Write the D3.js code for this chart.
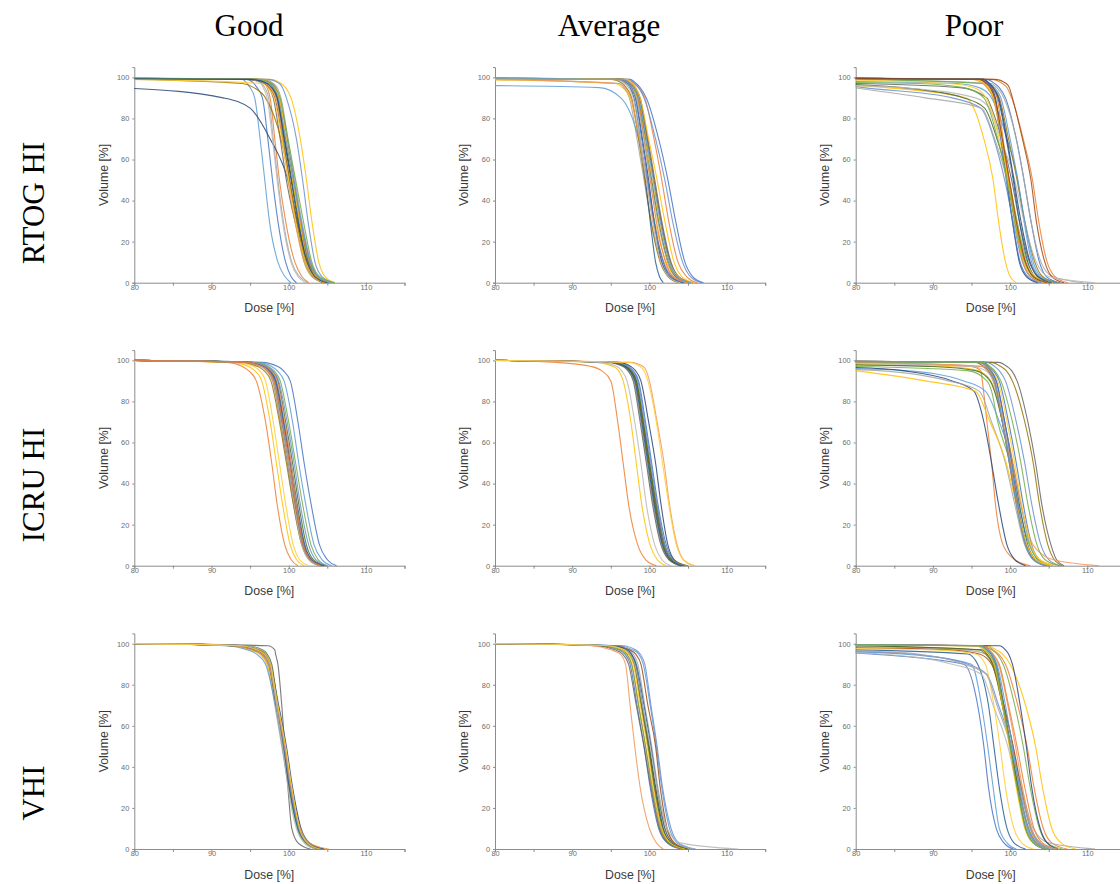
<!DOCTYPE html>
<html><head><meta charset="utf-8">
<script src="https://cdn.jsdelivr.net/npm/d3@7"></script>
<style>html,body{margin:0;padding:0;background:#fff;}svg{display:block;}</style>
</head><body>
<svg id="chart" width="1120" height="884"></svg>
<script>
// ---------- categories / labels ----------
const columnTitles = ["Good", "Average", "Poor"];
const rowTitles = ["RTOG HI", "ICRU HI", "VHI"];
const xTicks = [80, 85, 90, 95, 100, 105, 110, 115];
const xTickLabels = [80, 90, 100, 110];
const yTickLabels = [0, 20, 40, 60, 80, 100];
// Each curve: [volume at 80% dose, then the dose (%) where the DVH reaches each volume level]
const volumeLevels = [99, 97, 95, 90, 70, 50, 30, 10, 3, 0, 85];

// ---------- RTOG HI ----------
const rtogGood = [
 [99.4,94.5,95.5,95.9,96.6,97.3,97.9,98.6,99.6,100.3,101.0],
 [99.3,95.5,96.9,97.2,97.6,98.2,98.8,99.6,100.8,101.7,102.6],
 [99.1,95.0,96.5,96.9,97.4,98.0,98.6,99.3,100.4,101.4,102.5],
 [99.5,97.5,99.0,99.6,100.3,101.5,102.3,103.0,103.9,104.7,106.0],
 [99.4,94.0,94.6,95.0,95.6,96.3,96.9,97.5,98.6,99.5,100.3],
 [99.4,95.0,97.2,97.7,98.4,99.3,100.1,100.9,102.0,103.0,104.6],
 [94.6,null,null,null,91.5,97.6,99.9,101.1,102.4,103.3,104.5,95.0],
 [99.3,94.5,97.0,97.5,98.2,99.2,100.1,101.0,102.2,103.2,104.8],
 [99.2,95.0,96.8,97.4,98.0,98.9,99.7,100.8,102.2,103.2,104.8],
 [99.0,92.0,94.0,95.5,97.0,99.0,100.1,101.0,102.3,103.3,104.6],
 [99.6,95.5,97.6,98.0,98.6,99.5,100.4,101.3,102.5,103.5,105.2],
 [99.5,95.8,97.5,98.0,98.5,99.5,100.4,101.4,102.6,103.7,105.3],
 [99.6,97.2,98.8,99.2,99.7,101.0,101.8,102.5,103.4,104.3,105.8],
 [99.2,95.0,97.0,97.6,98.4,99.2,99.9,100.8,102.0,103.1,104.7],
 [99.2,95.0,96.4,96.7,97.2,97.9,98.5,99.2,100.3,101.2,102.2],
 [99.0,null,96.5,97.3,98.1,99.1,100.0,100.9,102.2,103.3,104.9],
 [99.5,95.8,97.7,98.2,98.8,99.8,100.7,101.6,102.8,103.8,105.6],
 [99.7,96.5,97.9,98.3,98.7,99.6,100.6,101.5,102.7,103.7,105.4],
 [99.5,96.8,98.0,98.5,99.0,99.9,100.8,101.7,102.9,103.8,105.6],
 [99.6,96.0,97.5,98.1,98.8,99.7,100.5,101.4,102.4,103.5,105.1],
 [99.4,95.5,97.4,98.0,98.6,99.6,100.6,101.6,102.8,103.8,105.3],
 [99.5,96.0,97.8,98.3,98.9,99.9,100.9,101.9,103.0,104.0,106.0],
 [99.3,95.0,97.2,97.8,98.5,99.4,100.3,101.2,102.4,103.4,105.0]
];
const rtogAverage = [
 [99.7,97.5,98.3,98.8,99.6,101.2,102.4,103.4,104.6,105.6,107.0],
 [99.5,97.0,98.0,98.6,99.4,100.6,101.6,102.5,103.7,104.8,106.2],
 [99.0,94.5,96.0,96.7,97.4,98.4,99.3,100.2,101.6,102.8,104.6],
 [98.8,null,95.5,96.5,97.5,98.7,99.7,100.7,102.2,103.4,105.5],
 [96.0,null,null,93.5,96.3,98.6,99.7,100.6,101.8,102.9,104.6],
 [99.4,95.8,97.2,97.8,98.4,99.4,100.3,101.2,102.5,103.6,105.4],
 [99.6,96.5,97.3,97.7,98.2,99.1,99.9,100.6,101.6,102.6,104.3],
 [99.5,96.0,97.4,98.0,98.7,99.7,100.6,101.5,102.7,103.7,105.6],
 [99.6,96.5,97.6,98.2,98.8,99.8,100.7,101.6,102.8,103.8,105.6],
 [99.3,95.0,96.5,97.0,97.7,98.6,99.4,100.2,101.4,102.4,103.8],
 [99.5,96.0,97.0,97.5,98.0,98.8,99.5,100.1,100.8,101.3,101.8],
 [99.5,96.2,97.4,97.9,98.5,99.5,100.3,101.2,102.4,103.4,105.2],
 [99.6,97.3,98.1,98.6,99.3,100.8,102.0,103.0,104.3,105.3,106.8],
 [99.0,94.0,96.0,96.8,97.6,98.7,99.6,100.5,101.9,103.0,104.8],
 [99.4,95.5,96.8,97.3,97.9,98.8,99.6,100.4,101.5,102.5,104.0],
 [99.4,96.0,97.3,97.8,98.4,99.4,100.4,101.3,102.6,103.7,105.5],
 [99.5,96.0,97.2,97.7,98.2,99.0,99.8,100.6,101.8,102.8,104.5],
 [99.6,96.5,97.5,98.0,98.5,99.3,100.1,100.9,102.1,103.1,105.0],
 [99.3,95.5,97.0,97.6,98.3,99.3,100.2,101.1,102.4,103.5,105.3],
 [99.7,97.0,97.8,98.2,98.8,99.9,101.0,102.0,103.2,104.2,105.8],
 [99.6,96.4,97.5,98.0,98.6,99.6,100.5,101.4,102.6,103.6,105.4]
];
const rtogPoor = [
 [99.6,97.0,98.0,98.6,99.4,100.8,101.8,102.7,103.8,104.7,106.5],
 [99.4,97.5,99.0,99.6,100.2,101.7,102.9,103.7,104.8,105.8,107.5],
 [99.0,96.0,97.5,98.3,99.2,100.8,101.8,102.7,104.0,105.5,109.5],
 [96.0,null,null,84.0,94.3,96.6,97.8,98.5,99.4,100.0,100.8,95.3],
 [98.0,null,93.0,96.0,97.6,99.6,101.0,101.8,102.8,103.8,105.6],
 [99.0,95.0,96.4,97.0,97.8,98.9,99.9,100.9,102.2,103.3,106.0],
 [99.6,96.6,97.2,97.6,98.1,98.9,99.6,100.3,101.2,102.1,103.6],
 [99.6,98.0,99.5,99.9,100.3,101.6,102.7,103.4,104.5,105.4,107.0],
 [97.0,null,86.0,93.5,97.0,98.9,100.2,101.2,102.5,103.6,105.8,97.6],
 [99.5,96.2,97.2,97.8,98.6,99.8,100.9,101.9,103.2,104.2,106.2],
 [99.5,96.2,97.0,97.6,98.4,99.5,100.4,101.2,102.3,103.2,105.0],
 [96.5,null,null,86.0,94.0,98.3,99.8,100.8,102.0,103.1,105.2,96.7],
 [95.5,null,null,81.0,92.5,97.9,99.3,100.4,101.6,102.6,104.6,96.2],
 [99.2,95.0,96.5,97.1,97.8,98.9,99.9,100.8,102.0,103.2,105.5],
 [96.0,null,null,86.0,95.5,98.8,100.6,101.8,103.4,105.0,111.0,97.3],
 [98.6,null,92.0,95.3,96.9,98.6,99.8,100.8,102.1,103.3,105.6],
 [99.6,96.0,97.0,97.5,98.0,98.8,99.5,100.3,101.3,102.3,104.0],
 [99.5,96.3,97.2,97.7,98.3,99.1,99.8,100.6,101.7,102.7,104.5],
 [94.8,null,null,null,89.0,98.0,99.6,100.7,102.0,103.0,105.0,96.3],
 [99.3,95.5,96.7,97.2,97.9,98.9,99.7,100.6,101.8,102.9,104.8],
 [99.5,96.5,97.4,98.0,98.8,100.0,101.0,101.9,103.0,104.0,106.0],
 [97.5,null,88.0,94.0,96.6,98.4,99.6,100.6,101.9,103.0,105.0],
 [99.5,96.5,97.3,97.8,98.5,99.6,100.5,101.4,102.6,103.6,105.4],
 [99.4,96.0,96.9,97.4,98.0,99.0,99.9,100.8,102.0,103.0,104.8]
];

// ---------- ICRU HI ----------
const icruGood = [
 [100,96.5,98.6,99.3,100.2,101.2,102.0,102.9,104.0,105.0,106.2],
 [100,92.0,94.0,94.8,95.8,97.0,97.8,98.5,99.5,100.3,101.2],
 [100,94.0,96.4,97.1,97.9,98.9,99.8,100.6,101.7,102.6,104.0],
 [100,92.5,94.8,95.6,96.5,97.6,98.4,99.2,100.2,101.0,102.0],
 [100,96.0,97.8,98.5,99.4,100.5,101.3,102.2,103.3,104.3,105.6],
 [100,95.5,97.4,98.1,98.9,100.0,100.9,101.8,102.9,103.8,105.0],
 [100,94.8,96.9,97.6,98.3,99.3,100.2,101.0,102.0,102.9,104.5],
 [100,94.6,96.7,97.3,98.0,99.0,99.9,100.8,101.9,102.8,104.4],
 [100,94.8,96.8,97.4,98.1,99.1,99.9,100.7,101.8,102.7,104.2],
 [100,93.5,96.0,96.8,97.7,98.8,99.7,100.6,101.7,102.7,104.2],
 [100,94.5,96.9,97.6,98.4,99.4,100.3,101.1,102.1,103.0,104.6],
 [100,95.0,97.1,97.8,98.6,99.6,100.5,101.3,102.3,103.2,104.8],
 [100,95.2,97.2,97.9,98.7,99.8,100.7,101.5,102.6,103.5,105.0],
 [100,95.0,97.0,97.7,98.5,99.5,100.3,101.0,101.9,102.7,104.0],
 [100,94.0,96.6,97.3,98.0,99.0,99.9,100.7,101.7,102.6,104.0],
 [100,93.0,95.5,96.2,97.0,98.0,98.8,99.6,100.6,101.4,102.6],
 [100,94.5,96.8,97.5,98.2,99.2,100.1,100.9,101.9,102.8,104.3],
 [100,94.2,96.5,97.2,98.1,99.2,100.1,100.9,101.9,102.8,104.2]
];
const icruAverage = [
 [100,95.8,97.3,97.9,98.6,99.5,100.3,101.1,102.2,103.1,104.8],
 [100,88.0,92.5,93.8,95.0,95.9,96.6,97.3,98.5,99.5,100.9],
 [100,94.8,96.7,97.3,98.0,98.9,99.7,100.5,101.6,102.6,104.3],
 [100,93.0,95.3,96.0,96.6,97.6,98.3,99.0,100.1,101.0,102.2],
 [100,95.6,97.1,97.7,98.4,99.3,100.1,100.9,102.0,102.9,104.6],
 [100,95.0,96.9,97.5,98.2,99.1,99.9,100.7,101.7,102.6,104.2],
 [100,96.0,97.6,98.2,98.9,99.9,100.8,101.5,102.4,103.2,104.6],
 [100,95.2,96.9,97.5,98.2,99.1,99.9,100.7,101.8,102.7,104.2],
 [100,94.6,96.6,97.2,97.9,98.8,99.6,100.4,101.5,102.5,104.1],
 [100,95.4,97.0,97.6,98.3,99.2,100.0,100.9,102.0,103.0,105.0],
 [100,95.0,96.8,97.4,98.1,99.0,99.8,100.6,101.7,102.7,104.3],
 [100,95.3,97.0,97.6,98.3,99.2,100.0,100.8,101.9,102.9,104.5],
 [100,95.5,97.2,97.8,98.5,99.4,100.2,101.0,102.0,103.0,104.7],
 [100,97.5,99.2,99.6,100.0,101.0,101.9,102.6,103.6,104.4,105.8],
 [100,93.5,95.8,96.4,97.1,98.1,98.9,99.6,100.7,101.6,102.8],
 [100,97.3,98.8,99.3,99.8,100.9,101.7,102.5,103.5,104.4,106.0]
];
const icruPoor = [
 [99.5,96.0,97.2,97.8,98.6,99.8,100.8,101.7,102.8,103.8,105.6],
 [99.0,null,95.0,96.2,96.4,97.0,97.6,98.1,99.1,100.6,102.6],
 [99.0,95.0,96.3,97.0,97.8,99.0,100.0,100.9,102.0,103.1,105.0],
 [98.0,null,92.0,95.8,97.5,99.2,100.4,101.4,102.7,103.8,106.0],
 [96.0,null,null,86.5,94.0,98.6,100.3,101.4,102.6,103.6,105.4,96.8],
 [97.0,null,85.0,94.5,97.0,98.4,100.0,101.1,102.5,103.6,105.6,97.6],
 [96.5,null,null,86.0,92.5,96.6,97.6,98.5,99.6,100.6,102.0,95.3],
 [99.2,95.5,96.6,97.2,97.9,99.0,99.9,100.8,102.0,103.1,104.8],
 [99.5,98.5,99.6,100.2,100.9,102.3,103.3,104.1,105.3,106.0,107.0],
 [99.4,97.5,98.8,99.5,100.3,101.9,103.0,103.8,104.9,105.7,106.8],
 [99.6,96.6,97.2,97.6,98.2,99.3,100.3,101.2,102.3,103.3,105.0],
 [97.8,null,90.0,95.5,97.4,99.0,100.0,100.9,102.1,103.2,105.2],
 [99.5,97.0,98.0,98.6,99.4,100.8,101.9,102.8,104.0,105.0,106.6],
 [99.0,96.0,96.8,97.3,98.0,99.2,100.3,101.4,103.0,105.5,111.5],
 [98.5,null,95.0,96.8,97.8,99.1,100.1,101.0,102.2,103.3,105.4],
 [99.5,96.3,97.1,97.6,98.4,99.6,100.6,101.5,102.7,103.8,105.8],
 [99.6,96.2,97.0,97.5,98.2,99.3,100.2,101.0,102.1,103.0,104.6],
 [99.6,96.4,97.0,97.4,98.0,99.0,100.0,100.9,102.0,103.0,104.8],
 [95.5,null,null,83.0,92.0,97.6,99.4,100.6,101.9,103.0,105.0,96.0],
 [95.0,null,null,null,89.0,97.4,99.5,100.8,102.2,103.3,105.4,95.5],
 [99.4,96.0,96.9,97.4,98.0,99.0,99.9,100.8,102.0,103.0,104.8],
 [99.4,96.5,97.4,98.0,98.8,100.3,101.4,102.3,103.5,104.5,106.4]
];

// ---------- VHI ----------
const vhiGood = [
 [100,93.0,95.5,96.6,97.4,98.3,99.2,100.0,101.2,102.3,104.0],
 [100,93.5,96.0,96.9,97.6,98.5,99.4,100.2,101.4,102.5,104.2],
 [100,92.5,95.0,96.3,97.2,98.2,99.1,100.0,101.3,102.4,104.4],
 [100,92.3,95.0,96.2,97.2,98.4,99.4,100.3,101.5,102.6,105.0],
 [100,92.0,94.6,95.8,97.0,98.3,99.4,100.3,101.5,102.6,104.5],
 [100,94.0,96.4,97.0,97.6,98.4,99.2,100.0,101.1,102.1,103.6],
 [100,93.0,95.6,96.7,97.6,98.7,99.7,100.5,101.6,102.7,104.6],
 [100,93.2,95.8,96.8,97.5,98.4,99.3,100.1,101.3,102.4,104.3],
 [100,97.3,98.2,98.3,98.6,99.1,99.5,99.9,100.4,101.2,102.8],
 [100,94.0,96.3,97.1,97.7,98.5,99.3,100.2,101.4,102.5,104.2],
 [100,93.0,95.4,96.5,97.4,98.4,99.3,100.1,101.2,102.3,104.0],
 [100,94.5,96.6,97.2,97.8,98.6,99.5,100.3,101.4,102.4,103.8],
 [100,93.3,95.7,96.7,97.5,98.5,99.4,100.2,101.3,102.4,104.2],
 [100,92.8,95.3,96.5,97.4,98.5,99.5,100.3,101.5,102.7,105.2],
 [100,94.2,96.5,97.1,97.7,98.4,99.2,99.9,101.0,102.0,103.4],
 [100,93.5,95.9,96.8,97.6,98.6,99.6,100.4,101.4,102.4,104.0]
];
const vhiAverage = [
 [100,93.5,96.0,96.8,97.5,98.4,99.3,100.1,101.2,102.3,104.0],
 [100,94.0,96.4,97.1,97.7,98.6,99.5,100.3,101.4,102.5,104.2],
 [100,95.2,97.3,97.9,98.5,99.4,100.3,101.1,102.2,103.3,105.5],
 [100,94.0,96.6,97.3,98.0,99.0,99.9,100.8,102.0,103.2,105.4],
 [100,96.0,97.8,98.6,99.2,100.1,100.9,101.6,102.6,103.6,105.5],
 [100,93.8,96.2,97.0,97.7,98.6,99.5,100.4,101.5,102.6,104.4],
 [100,95.0,97.0,97.6,98.2,99.1,100.0,100.8,101.8,102.8,104.6],
 [100,95.5,97.4,98.2,98.9,99.8,100.8,101.4,102.3,103.2,105.0],
 [100,93.0,95.5,96.5,97.3,98.3,99.3,100.2,101.3,102.4,104.4],
 [100,94.8,96.9,97.4,98.0,98.9,99.8,100.6,101.6,102.6,104.3],
 [100,95.0,97.1,97.7,98.3,99.3,100.2,101.0,102.0,103.0,104.8],
 [100,94.8,96.8,97.4,98.1,99.0,99.9,100.7,101.7,102.8,104.8],
 [100,96.5,98.2,98.8,99.4,100.2,101.0,101.7,102.8,103.8,106.0],
 [100,92.5,95.0,96.2,96.9,97.5,98.1,98.8,100.0,100.9,101.8],
 [100,94.5,96.8,97.5,98.1,99.1,100.1,101.0,102.3,104.0,111.5],
 [100,94.5,96.7,97.3,97.9,98.8,99.7,100.5,101.6,102.7,104.6]
];
const vhiPoor = [
 [95.5,null,null,82.0,94.0,95.8,96.6,97.2,98.2,99.2,100.4],
 [99.5,97.0,97.8,98.5,99.4,101.0,102.2,103.1,104.3,105.4,107.4],
 [98.5,null,94.0,96.8,97.8,99.2,100.4,101.5,103.0,105.0,111.0],
 [99.2,97.0,98.2,99.0,100.0,102.0,103.3,104.2,105.4,106.6,108.5],
 [96.0,null,null,86.0,95.0,96.3,97.1,97.8,98.6,99.6,100.8],
 [99.4,96.5,97.6,98.3,99.1,100.6,101.7,102.6,103.8,104.8,106.8],
 [99.6,98.6,99.4,99.8,100.3,101.3,102.1,102.8,103.9,104.8,106.2],
 [98.0,null,92.0,96.0,97.6,99.2,100.4,101.4,102.7,103.9,106.0],
 [99.5,96.5,97.2,97.6,98.2,99.2,100.1,101.0,102.0,103.0,104.6],
 [99.0,94.5,96.0,96.8,97.7,99.0,100.1,101.1,102.4,103.5,105.6],
 [97.0,null,88.0,94.5,95.8,97.2,97.9,98.6,99.6,100.5,102.0],
 [99.0,95.0,96.4,97.0,97.8,99.0,100.0,101.0,102.2,103.3,105.2],
 [96.2,null,null,87.0,94.5,98.5,100.2,101.3,102.6,103.7,105.6,97.0],
 [99.5,96.2,97.1,97.7,98.5,99.7,100.7,101.6,102.8,103.9,105.8],
 [95.5,null,null,83.0,92.5,97.8,99.7,100.9,102.2,103.3,105.4,96.3],
 [97.5,null,90.0,95.5,96.8,97.9,98.7,99.4,100.5,101.5,103.0],
 [99.5,96.2,97.0,97.5,98.1,99.1,100.0,100.9,102.0,103.0,104.6],
 [99.6,96.6,97.3,97.8,98.6,99.8,100.9,101.9,103.1,104.2,106.2],
 [96.5,null,null,88.0,94.0,98.3,100.1,101.3,102.7,103.9,106.0,96.9],
 [99.3,95.5,96.6,97.2,97.9,99.0,99.9,100.8,101.9,103.0,104.8],
 [99.6,96.0,97.0,97.6,98.3,99.4,100.3,101.2,102.3,103.3,105.0],
 [99.4,95.8,96.8,97.3,98.0,99.1,100.0,100.9,102.0,103.0,104.8]
];

const panelData = [
  [rtogGood, rtogAverage, rtogPoor],
  [icruGood, icruAverage, icruPoor],
  [vhiGood, vhiAverage, vhiPoor]
];

// ---------- styling ----------
const palette = ["#4472C4","#ED7D31","#A5A5A5","#FFC000","#5B9BD5","#70AD47","#264478","#9E480E",
                 "#636363","#997300","#255E91","#43682B","#698ED0","#F1975A","#B7B7B7","#FFCD33"];
const colX80 = [134.3, 495, 855.7];
const rowY0 = [282.7, 565.7, 849];
const plotW = 270.2;   // 80..115
const plotH = 215.6;   // 0..105

const svg = d3.select("#chart");

function toPoints(c) {
  const pts = [[80, c[0]]];
  volumeLevels.forEach((v, i) => {
    const d = c[i + 1];
    if (d != null && v < c[0]) pts.push([d, v]);
  });
  return pts.sort((a, b) => a[0] - b[0]);
}

panelData.forEach((row, r) => {
  row.forEach((curves, ci) => {
    const x = d3.scaleLinear().domain([80, 115]).range([colX80[ci], colX80[ci] + plotW]);
    const y = d3.scaleLinear().domain([0, 105]).range([rowY0[r], rowY0[r] - plotH]);
    const g = svg.append("g");

    const xa = g.append("g").attr("transform", `translate(0,${rowY0[r]})`)
      .call(d3.axisBottom(x).tickValues(xTicks).tickSize(3).tickFormat(d => xTickLabels.includes(d) ? d : ""));
    const ya = g.append("g").attr("transform", `translate(${colX80[ci]},0)`)
      .call(d3.axisLeft(y).tickValues(yTickLabels).tickSize(2).tickPadding(3));
    [xa, ya].forEach(a => {
      a.select(".domain").attr("stroke", "#8c8c8c").attr("stroke-width", 1);
      a.selectAll(".tick line").attr("stroke", "#8c8c8c");
      a.selectAll(".tick text").attr("fill", "#6e6e6e").attr("font-size", 7.4)
        .attr("font-family", "Liberation Sans, Arial, sans-serif");
    });
    xa.selectAll(".tick text").attr("dy", "0.55em").attr("y", 3);

    const line = d3.line().x(d => x(d[0])).y(d => y(d[1])).curve(d3.curveMonotoneX);
    g.append("g").selectAll("path").data(curves).join("path")
      .attr("d", c => line(toPoints(c)))
      .attr("fill", "none")
      .attr("stroke", (c, i) => palette[i % palette.length])
      .attr("stroke-width", 1.1)
      .attr("stroke-opacity", 0.85);

    g.append("text").attr("x", colX80[ci] + 135).attr("y", rowY0[r] + 29.5)
      .attr("text-anchor", "middle").attr("font-size", 12.3).attr("fill", "#3a3a3a")
      .attr("font-family", "Liberation Sans, Arial, sans-serif").text("Dose [%]");
    g.append("text")
      .attr("transform", `translate(${colX80[ci] - 26.7},${rowY0[r] - plotH / 2}) rotate(-90)`)
      .attr("text-anchor", "middle").attr("font-size", 12.3).attr("fill", "#3a3a3a")
      .attr("font-family", "Liberation Sans, Arial, sans-serif").text("Volume [%]");
  });
});

const titleX = [249, 609, 974];
columnTitles.forEach((t, i) => {
  svg.append("text").attr("x", titleX[i]).attr("y", 36).attr("text-anchor", "middle")
    .attr("font-family", "Liberation Serif, 'Times New Roman', serif").attr("font-size", 31)
    .attr("fill", "#000").text(t);
});
const rowTitleY = [203, 485, 793];
rowTitles.forEach((t, i) => {
  svg.append("text").attr("transform", `translate(44,${rowTitleY[i]}) rotate(-90)`)
    .attr("text-anchor", "middle")
    .attr("font-family", "Liberation Serif, 'Times New Roman', serif").attr("font-size", 31)
    .attr("fill", "#000").text(t);
});
</script>
</body></html>
